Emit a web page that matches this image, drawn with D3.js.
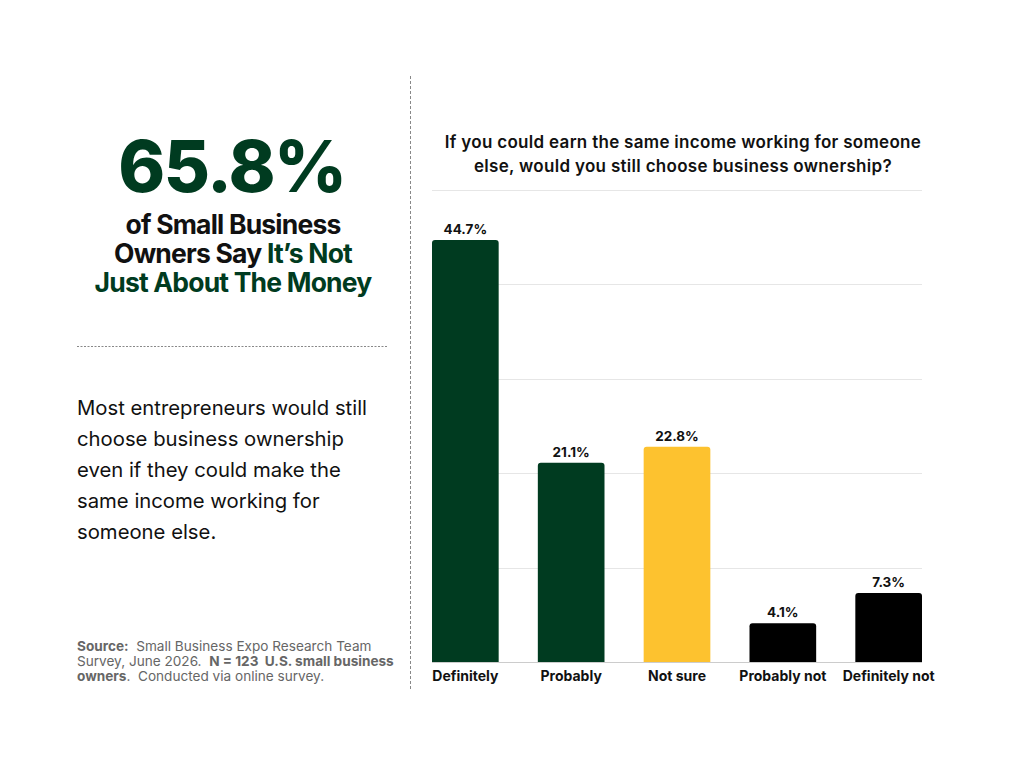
<!DOCTYPE html>
<html>
<head>
<meta charset="utf-8">
<script src="https://cdn.jsdelivr.net/npm/d3@7"></script>
<style>
  body { margin: 0; background: #fff; }
  svg { display: block; font-family: Inter, "Open Sans", sans-serif; }
</style>
</head>
<body>
<svg width="1024" height="768"></svg>
<script>
// chart data
const categories = ["Definitely", "Probably", "Not sure", "Probably not", "Definitely not"];
const shares = [44.7, 21.1, 22.8, 4.1, 7.3];
const barColors = ["#003b20", "#003b20", "#fdc22f", "#000000", "#000000"];
const gridTicks = [0, 10, 20, 30, 40, 50];

const headline = "65.8%";
const subLines = [
  [{ t: "of Small Business", c: "#111" }],
  [{ t: "Owners Say ", c: "#111" }, { t: "It\u2019s Not", c: "#003b20" }],
  [{ t: "Just About The Money", c: "#003b20" }]
];
const bodyLines = [
  "Most entrepreneurs would still",
  "choose business ownership",
  "even if they could make the",
  "same income working for",
  "someone else."
];
const chartTitle = [
  "If you could earn the same income working for someone",
  "else, would you still choose business ownership?"
];

const svg = d3.select("svg");
const green = "#003b20";

// ---- left panel ----
svg.append("text")
  .attr("x", 232).attr("y", 192)
  .attr("text-anchor", "middle")
  .attr("font-size", 71).attr("font-weight", 800)
  .attr("letter-spacing", -1.5)
  .attr("fill", green)
  .text(headline);

subLines.forEach((parts, i) => {
  const t = svg.append("text")
    .attr("x", 233).attr("y", 234 + i * 29)
    .attr("text-anchor", "middle")
    .attr("font-size", 26.5).attr("font-weight", 700)
    .attr("letter-spacing", -0.8);
  parts.forEach(p => t.append("tspan").attr("fill", p.c).text(p.t));
});

svg.append("line")
  .attr("x1", 77).attr("x2", 387)
  .attr("y1", 346.5).attr("y2", 346.5)
  .attr("stroke", "#888").attr("stroke-width", 1)
  .attr("stroke-dasharray", "2,1.5");

svg.append("g").selectAll("text")
  .data(bodyLines)
  .join("text")
  .attr("x", 77)
  .attr("y", (d, i) => 415 + i * 31)
  .attr("font-size", 20.3)
  .attr("fill", "#111")
  .text(d => d);

const src = svg.append("g")
  .attr("font-size", 13.6).attr("fill", "#666");
const s1 = src.append("text").attr("x", 77).attr("y", 651);
s1.append("tspan").attr("font-weight", 700).text("Source:");
s1.append("tspan").text("\u00a0 Small Business Expo Research Team");
const s2 = src.append("text").attr("x", 77).attr("y", 666);
s2.append("tspan").text("Survey, June 2026.\u00a0 ");
s2.append("tspan").attr("font-weight", 700).text("N = 123\u00a0 U.S. small business");
const s3 = src.append("text").attr("x", 77).attr("y", 681);
s3.append("tspan").attr("font-weight", 700).text("owners");
s3.append("tspan").text(".\u00a0 Conducted via online survey.");

// vertical divider
svg.append("line")
  .attr("x1", 410.5).attr("x2", 410.5)
  .attr("y1", 76).attr("y2", 690)
  .attr("stroke", "#888").attr("stroke-width", 1)
  .attr("stroke-dasharray", "3,2");

// ---- bar chart ----
const x = d3.scaleBand()
  .domain(categories)
  .range([432, 922])
  .paddingInner(0.37)
  .paddingOuter(0);

const y = d3.scaleLinear()
  .domain([0, 50])
  .range([662, 190]);

svg.append("g").selectAll("text")
  .data(chartTitle)
  .join("text")
  .attr("x", 683)
  .attr("y", (d, i) => 148 + i * 24)
  .attr("text-anchor", "middle")
  .attr("font-size", 17).attr("font-weight", 600)
  .attr("letter-spacing", 0.3)
  .attr("fill", "#111")
  .text(d => d);

svg.append("g").selectAll("line")
  .data(gridTicks)
  .join("line")
  .attr("x1", 432).attr("x2", 922)
  .attr("y1", d => Math.round(y(d)) + 0.5)
  .attr("y2", d => Math.round(y(d)) + 0.5)
  .attr("stroke", d => d === 0 ? "#ccc" : "#e6e6e6");

const r = 3;
const rows = categories.map((c, i) => ({ cat: c, v: shares[i], color: barColors[i] }));

function barPath(d) {
  const x0 = x(d.cat), w = x.bandwidth(), y0 = y(d.v), yb = y(0);
  return `M${x0},${yb}V${y0 + r}Q${x0},${y0} ${x0 + r},${y0}H${x0 + w - r}Q${x0 + w},${y0} ${x0 + w},${y0 + r}V${yb}Z`;
}

svg.append("g").selectAll("path")
  .data(rows)
  .join("path")
  .attr("d", barPath)
  .attr("fill", d => d.color);

svg.append("g").selectAll("text")
  .data(rows)
  .join("text")
  .attr("x", d => x(d.cat) + x.bandwidth() / 2)
  .attr("y", d => y(d.v) - 6)
  .attr("text-anchor", "middle")
  .attr("font-size", 13.5).attr("font-weight", 700)
  .attr("fill", "#111")
  .text(d => d.v.toFixed(1) + "%");

const xAxis = svg.append("g")
  .attr("transform", "translate(0,662)")
  .call(d3.axisBottom(x).tickSize(0).tickPadding(9));
xAxis.select(".domain").remove();
xAxis.selectAll("text")
  .attr("font-family", "Inter, sans-serif")
  .attr("font-size", 14).attr("font-weight", 700)
  .attr("fill", "#111");
</script>
</body>
</html>
